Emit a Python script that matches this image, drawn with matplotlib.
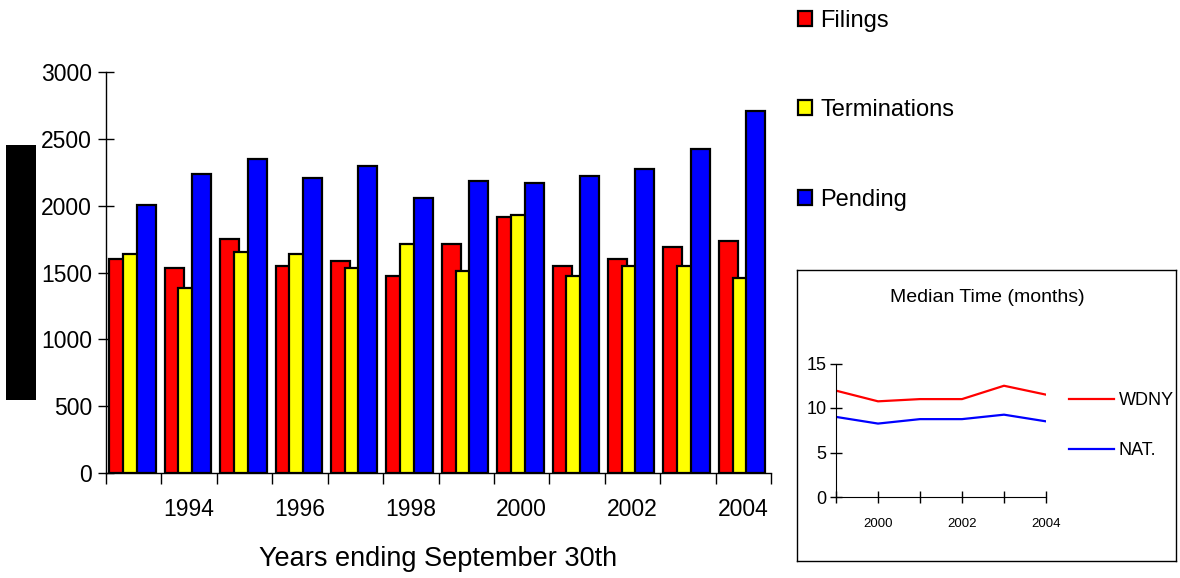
import matplotlib
matplotlib.use("Agg")
import matplotlib.pyplot as plt
import numpy as np
from matplotlib.patches import Rectangle

plt.rcParams['font.family'] = ['Liberation Sans Narrow', 'Liberation Sans', 'DejaVu Sans']

# --- data
years = [1993, 1994, 1995, 1996, 1997, 1998, 1999, 2000, 2001, 2002, 2003, 2004]
filings = [1603, 1531, 1747, 1548, 1585, 1474, 1710, 1913, 1548, 1603, 1692, 1735]
terminations = [1638, 1382, 1655, 1638, 1531, 1710, 1511, 1933, 1474, 1548, 1548, 1456]
pending = [2003, 2239, 2348, 2204, 2296, 2058, 2187, 2169, 2224, 2276, 2425, 2705]

med_years = [1999, 2000, 2001, 2002, 2003, 2004]
wdny = [11.95, 10.75, 11.0, 11.0, 12.5, 11.5]
nat = [9.0, 8.25, 8.75, 8.75, 9.25, 8.5]

W, H = 1180, 578
fig = plt.figure(figsize=(W / 100, H / 100), dpi=100)

# --- main bar chart
ax = fig.add_axes([106 / W, 1 - 473 / H, 665 / W, 401 / H])
x = np.arange(len(years))
bw = 0.343
step = 0.247
start = -0.5 + 0.06 + bw / 2
series = [(filings, "#ff0000", "Filings"),
          (terminations, "#ffff00", "Terminations"),
          (pending, "#0000ff", "Pending")]
handles = []
for k, (vals, col, lab) in enumerate(series):
    b = ax.bar(x + start + k * step, vals, width=bw, color=col,
               edgecolor="black", linewidth=1.6, label=lab, zorder=2 + k)
    handles.append(b)

ax.set_xlim(-0.5, len(years) - 0.5)
ax.set_ylim(0, 3000)
ax.set_yticks(range(0, 3001, 500))
ax.set_xticks(np.arange(-0.5, len(years)), minor=False)
ax.set_xticklabels([])
ax.set_xticks([i for i, y in enumerate(years) if y % 2 == 0], minor=True)
ax.set_xticklabels([str(y) for y in years if y % 2 == 0], minor=True)
ax.tick_params(axis="x", which="major", direction="out", length=8, width=1)
ax.tick_params(axis="x", which="minor", length=0, pad=18, labelsize=16.5)
ax.tick_params(axis="y", direction="inout", length=12, width=1, labelsize=16.5, pad=4)
for s in ["top", "right"]:
    ax.spines[s].set_visible(False)
ax.spines["left"].set_linewidth(1)
ax.spines["bottom"].set_linewidth(1)
ax.set_xlabel("Years ending September 30th", fontsize=19.5, labelpad=18)

fig.legend(handles=handles, loc="upper left", bbox_to_anchor=(798 / W, 1 - 10 / H),
           frameon=False, fontsize=17, handlelength=0.6, handleheight=0.6,
           handletextpad=0.35, labelspacing=2.85, borderpad=0, borderaxespad=0)

# redaction block on the left
fig.patches.append(Rectangle((6 / W, 1 - 400 / H), 30 / W, 255 / H,
                             transform=fig.transFigure, facecolor="black",
                             edgecolor="none"))

# --- inset: median time, framed box
box = fig.add_axes([797 / W, 1 - 561 / H, 379 / W, 291 / H])
box.set_xticks([])
box.set_yticks([])
for s in box.spines.values():
    s.set_linewidth(1)

ax2 = fig.add_axes([836 / W, 1 - 497 / H, 210 / W, 133.5 / H])
ax2.plot(med_years, wdny, color="#ff0000", lw=1.6, label="WDNY")
ax2.plot(med_years, nat, color="#0000ff", lw=1.6, label="NAT.")
ax2.set_xlim(1999, 2004)
ax2.set_ylim(0, 15)
ax2.set_yticks([0, 5, 10, 15])
ax2.set_xticks(med_years)
ax2.set_xticklabels([str(y) if y % 2 == 0 else "" for y in med_years])
ax2.tick_params(axis="x", direction="inout", length=8, width=1, labelsize=9.5, pad=11)
ax2.tick_params(axis="y", direction="inout", length=8, width=1, labelsize=13, pad=3)
for s in ["top", "right"]:
    ax2.spines[s].set_visible(False)
ax2.patch.set_alpha(0)
fig.text(987 / W, 1 - 297 / H, "Median Time (months)", ha="center", va="center",
         fontsize=14)
ax2.legend(loc="upper left", bbox_to_anchor=(1069 / W, 1 - 392 / H),
           bbox_transform=fig.transFigure, frameon=False, fontsize=13,
           handlelength=2.5, handletextpad=0.25, labelspacing=1.85,
           borderpad=0, borderaxespad=0)

fig.savefig("out.png", dpi=100)
